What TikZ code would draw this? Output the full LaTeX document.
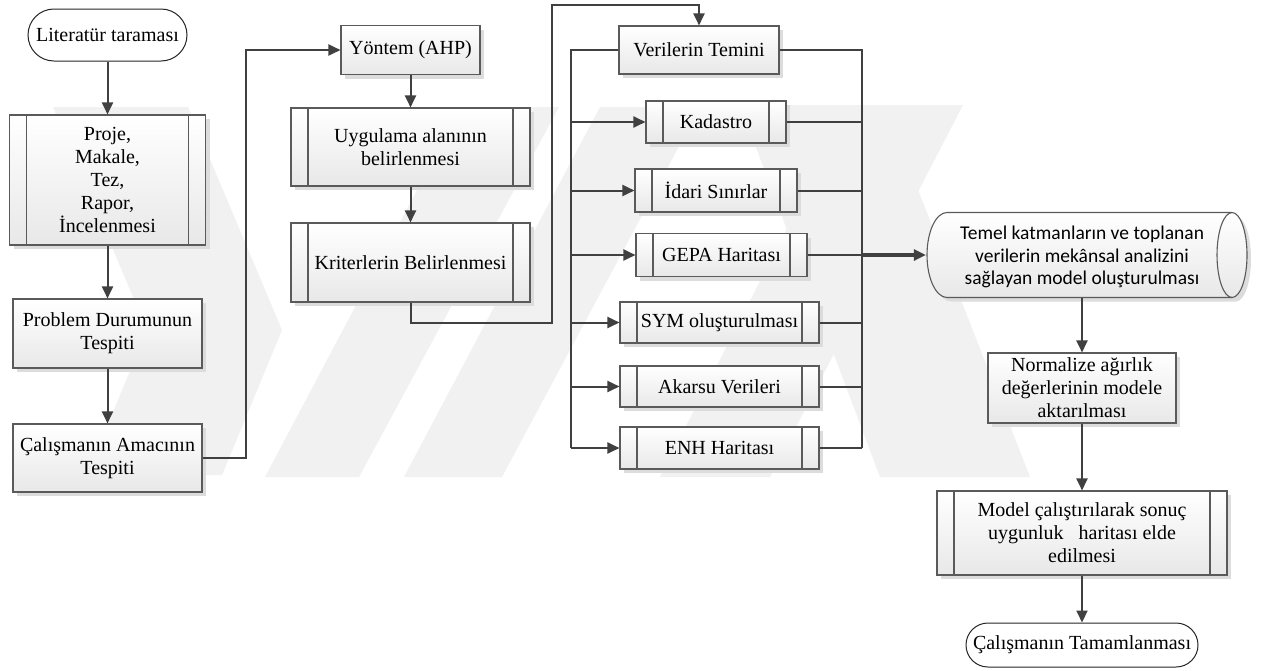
\documentclass[tikz,border=0pt]{standalone}
\usepackage{fontspec}
\setmainfont{Liberation Serif}
\newfontfamily\carlitofont{Carlito}
\usetikzlibrary{arrows.meta,shadows}
\definecolor{linecol}{HTML}{404040}
\definecolor{edgecol}{HTML}{5A5A5A}
\definecolor{shadecol}{HTML}{E8E8E8}
\definecolor{shadowcol}{HTML}{DCDCDC}
\definecolor{markcol}{HTML}{F1F1F1}

\begin{document}
\begin{tikzpicture}[x=1pt,y=-1pt,
  lbl/.style={font=\fontsize{20}{23}\selectfont, align=center, inner sep=0pt, text=black},
  boxbase/.style={lbl, rectangle, draw=edgecol, line width=1.1pt,
    top color=white, bottom color=shadecol,
    general shadow={fill=shadowcol, shadow xshift=4pt, shadow yshift=-4pt}},
  procbox/.style={boxbase},
  subbox/.style={boxbase, path picture={
    \draw[edgecol, line width=1.1pt]
      ([xshift=17pt]path picture bounding box.north west) -- ([xshift=17pt]path picture bounding box.south west)
      ([xshift=-17pt]path picture bounding box.north east) -- ([xshift=-17pt]path picture bounding box.south east);}},
  term/.style={lbl, rectangle, draw=black!85, line width=1pt, fill=white, rounded corners=#1},
  conn/.style={draw=linecol, line width=2pt},
  flow/.style={conn, -{Triangle[length=12pt,width=11pt]}},
]
\useasboundingbox (0,0) rectangle (1265,670);
\fill[white] (0,0) rectangle (1265,670);

% faint watermark bands in the background
\begin{scope}[fill=markcol]
  \fill (53,107) -- (188,107) -- (282,330) -- (222,475) -- (87,475) -- (147,330) -- cycle;
  \fill (265,477) -- (359,477) -- (559,107) -- (461,107) -- cycle;
  \fill (404,477) -- (502,477) -- (700,107) -- (600,107) -- cycle;
  \fill (740,105) -- (885,105) -- (1030,477) -- (880,477) -- cycle;
  \fill (850,105) -- (963,105) -- (770,477) -- (660,477) -- cycle;
\end{scope}

% data storage shape for the model step
\path[draw=edgecol, line width=1.1pt, top color=white, bottom color=shadecol,
      general shadow={fill=shadowcol, shadow xshift=4pt, shadow yshift=-4pt}]
  (947,212.5) -- (1232,212.5)
  .. controls (1240.3,212.5) and (1247,231.5) .. (1247,255)
  .. controls (1247,278.5) and (1240.3,297.5) .. (1232,297.5)
  -- (947,297.5)
  .. controls (936,297.5) and (927,278.5) .. (927,255)
  .. controls (927,231.5) and (936,212.5) .. (947,212.5) -- cycle;
\draw[edgecol, line width=1.1pt] (1232,212.5)
  .. controls (1223.7,212.5) and (1217,231.5) .. (1217,255)
  .. controls (1217,278.5) and (1223.7,297.5) .. (1232,297.5);

% left column
\node[term=26pt, minimum width=159pt, minimum height=52pt] (lit) at (107.5,35) {Literatür taraması};
\node[subbox, minimum width=196pt, minimum height=130pt] (proje) at (107.5,180) {Proje,\\Makale,\\Tez,\\Rapor,\\İncelenmesi};
\node[procbox, minimum width=189pt, minimum height=69pt] (prob) at (107.5,333.5) {Problem Durumunun\\Tespiti};
\node[procbox, minimum width=189pt, minimum height=68pt] (amac) at (107.5,458) {Çalışmanın Amacının\\Tespiti};

% middle column
\node[procbox, minimum width=139pt, minimum height=49pt] (yontem) at (410.5,50) {Yöntem (AHP)};
\node[subbox, minimum width=239pt, minimum height=78pt] (uyg) at (410.5,147) {Uygulama alanının\\belirlenmesi};
\node[subbox, minimum width=239pt, minimum height=79pt] (krit) at (410.5,262.5) {Kriterlerin Belirlenmesi};

% data column
\node[procbox, minimum width=160pt, minimum height=48pt] (veri) at (699,50) {Verilerin Temini};
\node[subbox, minimum width=140pt, minimum height=42pt] (kad) at (716,122) {Kadastro};
\node[subbox, minimum width=162pt, minimum height=43pt] (idari) at (716,190.5) {İdari Sınırlar};
\node[subbox, minimum width=171pt, minimum height=43pt] (gepa) at (721.5,255) {GEPA Haritası};
\node[subbox, minimum width=199pt, minimum height=41pt] (sym) at (719.5,322.5) {SYM oluşturulması};
\node[subbox, minimum width=199pt, minimum height=41pt] (akar) at (719.5,386.5) {Akarsu Verileri};
\node[subbox, minimum width=199pt, minimum height=42pt] (enh) at (719.5,448) {ENH Haritası};

% right column
\node[lbl, font=\carlitofont\fontsize{19.5}{22.5}\selectfont, minimum width=312pt, minimum height=85pt] (model) at (1082,257)
  {Temel katmanların ve toplanan\\verilerin mekânsal analizini\\sağlayan model oluşturulması};
\node[procbox, minimum width=188pt, minimum height=70pt] (norm) at (1082,388) {Normalize ağırlık\\değerlerinin modele\\aktarılması};
\node[subbox, minimum width=290pt, minimum height=84pt] (calis) at (1082,533) {Model çalıştırılarak sonuç\\uygunluk \ \ haritası elde\\edilmesi};
\node[term=22pt, minimum width=232pt, minimum height=44pt] (tam) at (1082,645) {Çalışmanın Tamamlanması};

% bus positions
\coordinate (busL) at (571,50);
\coordinate (busR) at (862,50);
\coordinate (topturn) at (552,5);

% connectors
\draw[flow] (lit) -- (proje);
\draw[flow] (proje) -- (prob);
\draw[flow] (prob) -- (amac);
\draw[flow] (amac.east) -- ++(43,0) |- (yontem.west);
\draw[flow] (yontem) -- (uyg);
\draw[flow] (uyg) -- (krit);
\draw[flow] (krit.south) -- ++(0,20) -| (topturn) -| (veri.north);

\draw[conn] (veri.west) -- (busL) -- (busL |- enh.west);
\draw[conn] (veri.east) -- (busR) -- (busR |- enh.east);
\foreach \n in {kad,idari,gepa,sym,akar,enh}{
  \draw[flow] (busL |- \n.west) -- (\n.west);
  \draw[conn] (\n.east) -- (busR |- \n.east);
}
\draw[conn, line width=3.5pt, -{Triangle[length=12pt,width=11pt]}] (busR |- gepa.east) -- (model.west |- gepa.east);

\draw[flow] (model.south |- 0,297.5) -- (norm.north);
\draw[flow] (norm) -- (calis);
\draw[flow] (calis) -- (tam);
\end{tikzpicture}
\end{document}
